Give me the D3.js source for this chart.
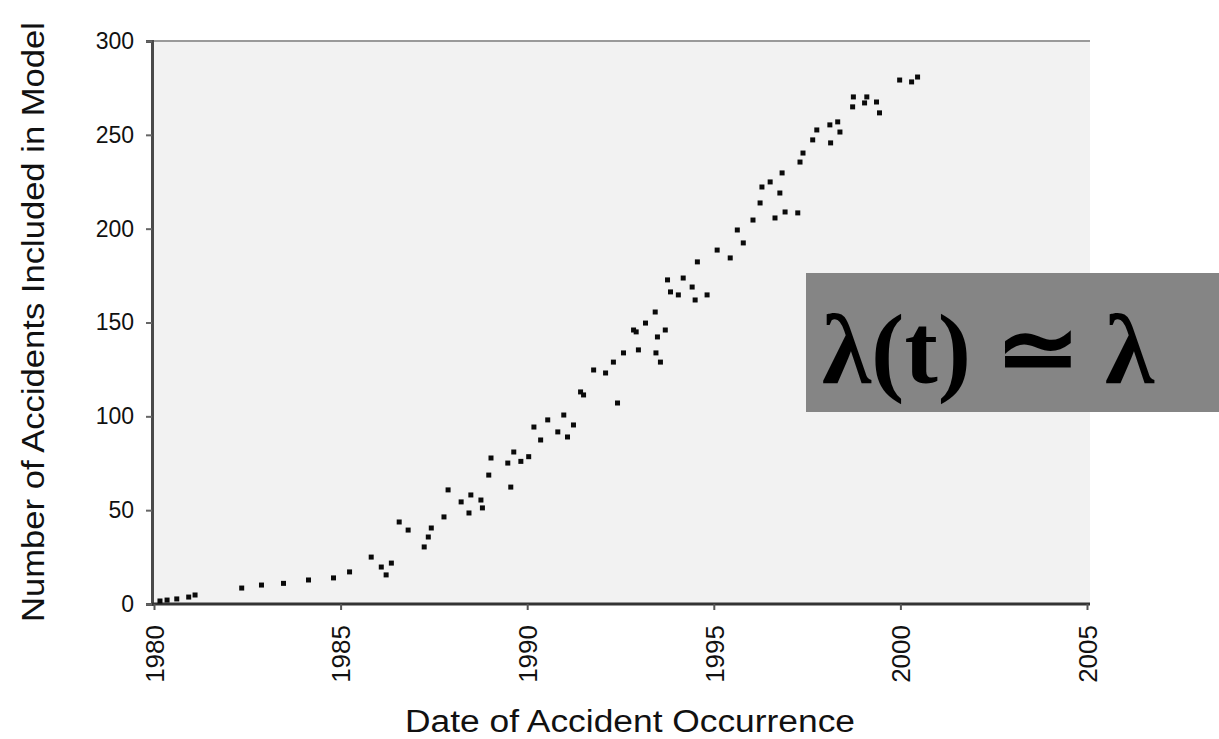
<!DOCTYPE html>
<html>
<head>
<meta charset="utf-8">
<script src="https://cdn.jsdelivr.net/npm/d3@7"></script>
<style>
  html, body { margin: 0; padding: 0; background: #ffffff; }
  svg { display: block; }
</style>
</head>
<body>
<svg id="chart" width="1219" height="739"></svg>
<script>
// ---- data ----
const dates = [1980.16,1980.35,1980.61,1980.93,1981.10,1982.35,1982.88,1983.47,1984.14,1984.81,
  1985.24,1985.82,1986.09,1986.22,1986.36,1986.57,1986.81,1987.24,1987.35,1987.43,
  1987.77,1987.88,1988.23,1988.44,1988.49,1988.76,1988.80,1988.97,1989.03,1989.48,
  1989.56,1989.64,1989.83,1990.04,1990.18,1990.36,1990.55,1990.82,1990.98,1991.08,
  1991.24,1991.43,1991.51,1991.78,1992.10,1992.31,1992.42,1992.58,1992.85,1992.92,
  1992.98,1993.17,1993.43,1993.45,1993.49,1993.57,1993.70,1993.76,1993.84,1994.05,
  1994.18,1994.42,1994.50,1994.56,1994.82,1995.09,1995.44,1995.63,1995.79,1996.05,
  1996.24,1996.29,1996.51,1996.64,1996.77,1996.83,1996.91,1997.25,1997.31,1997.39,
  1997.65,1997.76,1998.11,1998.13,1998.32,1998.38,1998.72,1998.74,1999.04,1999.10,
  1999.36,1999.44,1999.98,2000.30,2000.46];
const counts = [1.6,2.1,2.7,3.7,4.8,8.5,10.1,11,12.8,13.9,
  17.1,25.0,19.7,15.5,21.8,43.7,39.4,30.4,35.7,40.5,
  46.4,60.8,54.4,48.5,58.1,55.4,51.2,68.7,77.8,75.1,
  62.3,81.0,76,78.5,94.3,87.4,98.1,91.7,100.7,89.0,
  95.4,113.0,111.4,124.7,123.1,128.9,107.1,133.8,146.0,145,
  135.4,149.7,155.6,133.8,142.3,128.9,146.0,172.7,166.3,164.7,
  173.7,168.9,162.0,182.3,164.7,188.6,184.4,199.3,192.4,204.6,
  213.7,222.2,224.9,205.7,219.0,229.7,208.9,208.4,235.5,240.3,
  247.3,252.6,255.3,245.7,256.9,251.5,264.9,270.2,267.0,270.2,
  267.5,261.7,279.2,278.2,280.8];
const xTicks = [1980, 1985, 1990, 1995, 2000, 2005];
const yTicks = [0, 50, 100, 150, 200, 250, 300];
const xTitle = "Date of Accident Occurrence";
const yTitle = "Number of Accidents Included in Model";
const formulaText = "λ(t) ≃ λ";

// ---- layout ----
const svg = d3.select("#chart");
const plot = { left: 152, right: 1090, top: 41, bottom: 604 };

const x = d3.scaleLinear().domain([1980, 2005]).range([154, 1087]);
const y = d3.scaleLinear().domain([0, 300]).range([plot.bottom, plot.top]);

// plot background
svg.append("rect")
  .attr("x", plot.left).attr("y", plot.top)
  .attr("width", plot.right - plot.left).attr("height", plot.bottom - plot.top)
  .attr("fill", "#f2f2f2");

// top border
svg.append("line")
  .attr("x1", plot.left).attr("x2", plot.right)
  .attr("y1", plot.top).attr("y2", plot.top)
  .attr("stroke", "#9a9a9a").attr("stroke-width", 2);

// y axis
const yAxis = d3.axisLeft(y).tickValues(yTicks).tickSize(6).tickPadding(12)
  .tickFormat(d3.format("d"));
const gy = svg.append("g").attr("transform", `translate(${plot.left},0)`).call(yAxis);
gy.select(".domain").attr("stroke", "#4a4a4a").attr("stroke-width", 3);
gy.selectAll(".tick line").attr("stroke", "#666").attr("stroke-width", 2);
gy.selectAll(".tick text")
  .attr("font-family", "Liberation Sans, Arial, sans-serif")
  .attr("font-size", 23).attr("fill", "#111");

// x axis
const xAxis = d3.axisBottom(x).tickValues(xTicks).tickSize(6).tickFormat(d3.format("d"));
const gx = svg.append("g").attr("transform", `translate(0,${plot.bottom})`).call(xAxis);
gx.select(".domain").attr("stroke", "#333").attr("stroke-width", 3)
  .attr("d", `M${plot.left},0H${plot.right}`);
gx.selectAll(".tick line").attr("stroke", "#555").attr("stroke-width", 2);
gx.selectAll(".tick text")
  .attr("font-family", "Liberation Sans, Arial, sans-serif")
  .attr("font-size", 26).attr("fill", "#111")
  .attr("text-anchor", "end")
  .attr("transform", "rotate(-90)")
  .attr("x", -21).attr("y", 0).attr("dy", "0.36em");

// data points
svg.append("g").selectAll("rect")
  .data(dates.map((d, i) => ({ d, c: counts[i] })))
  .join("rect")
  .attr("x", p => x(p.d) - 2.5)
  .attr("y", p => y(p.c) - 2.5)
  .attr("width", 5).attr("height", 5)
  .attr("fill", "#0a0a0a");

// axis titles
svg.append("text")
  .attr("x", 630).attr("y", 732)
  .attr("text-anchor", "middle")
  .attr("font-family", "Liberation Sans, Arial, sans-serif")
  .attr("font-size", 31).attr("fill", "#111")
  .attr("textLength", 450).attr("lengthAdjust", "spacingAndGlyphs")
  .text(xTitle);

svg.append("text")
  .attr("transform", "translate(44,322) rotate(-90)")
  .attr("text-anchor", "middle")
  .attr("font-family", "Liberation Sans, Arial, sans-serif")
  .attr("font-size", 31).attr("fill", "#111")
  .attr("textLength", 600).attr("lengthAdjust", "spacingAndGlyphs")
  .text(yTitle);

// formula box
svg.append("rect")
  .attr("x", 806).attr("y", 273).attr("width", 413).attr("height", 139)
  .attr("fill", "#858585");
svg.append("text")
  .attr("x", 822).attr("y", 383)
  .attr("font-family", "Liberation Serif, Times New Roman, serif")
  .attr("font-weight", "bold")
  .attr("font-size", 100).attr("fill", "#000")
  .attr("textLength", 332).attr("lengthAdjust", "spacingAndGlyphs")
  .text(formulaText);
</script>
</body>
</html>
